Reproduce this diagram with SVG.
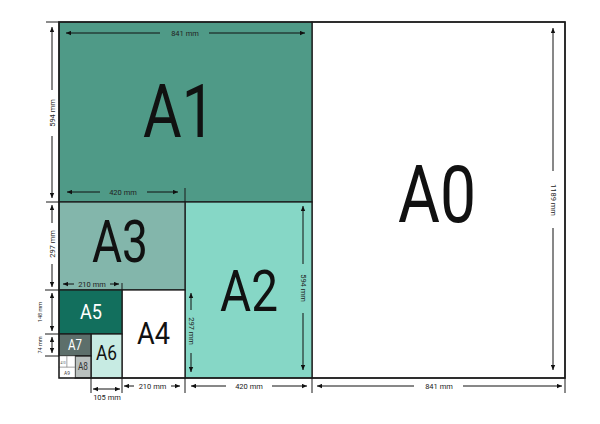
<svg xmlns="http://www.w3.org/2000/svg" width="600" height="424" viewBox="0 0 600 424">
<defs>
<marker id="ah" viewBox="0 0 6 6" refX="6" refY="3" markerWidth="5" markerHeight="5" orient="auto-start-reverse" markerUnits="userSpaceOnUse"><path d="M0,0.4 L6,3 L0,5.6z" fill="#111"/></marker>
<style>
.sheet{stroke:#1b1b1b;stroke-width:1.3}
.big{font-family:Roboto,"Liberation Sans",sans-serif;text-anchor:middle;fill:#111}
.dim{stroke:#111;stroke-width:1;fill:none;marker-end:url(#ah)}
.dim2{stroke:#111;stroke-width:1;fill:none;marker-end:url(#ah);marker-start:url(#ah)}
.ext{stroke:#1b1b1b;stroke-width:1}
.dt{font-family:Roboto,"Liberation Sans",sans-serif;font-size:7.5px;fill:#222;text-anchor:middle;dominant-baseline:central}
.ds{font-family:Roboto,"Liberation Sans",sans-serif;font-size:5.5px;fill:#222;text-anchor:middle;dominant-baseline:central}
</style>
</defs>
<rect width="600" height="424" fill="#fff"/>
<g id="A0"><rect class="sheet" x="312" y="22" width="253" height="356" fill="#fff"/><text class="big" x="437" y="222" font-size="79" textLength="78" lengthAdjust="spacingAndGlyphs">A0</text></g>
<g id="A1"><rect class="sheet" x="59" y="22" width="253" height="180" fill="#4f9a87"/><text class="big" x="179" y="137" font-size="74" textLength="72" lengthAdjust="spacingAndGlyphs">A1</text></g>
<g id="A2"><rect class="sheet" x="185" y="202" width="127" height="176" fill="#86d7c6"/><text class="big" x="249" y="311" font-size="58" textLength="58" lengthAdjust="spacingAndGlyphs">A2</text></g>
<g id="A3"><rect class="sheet" x="59" y="202" width="126" height="88" fill="#83b6ab"/><text class="big" x="120" y="262" font-size="59" textLength="56" lengthAdjust="spacingAndGlyphs">A3</text></g>
<g id="A4"><rect class="sheet" x="122" y="290" width="63" height="88" fill="#fff"/><text class="big" x="153.5" y="344" font-size="32" textLength="33" lengthAdjust="spacingAndGlyphs">A4</text></g>
<g id="A5"><rect class="sheet" x="59" y="290" width="63" height="44" fill="#126f5d"/><text class="big" x="91" y="319" font-size="20" textLength="22" lengthAdjust="spacingAndGlyphs" fill="#fff" style="fill:#fff">A5</text></g>
<g id="A6"><rect class="sheet" x="91" y="334" width="31" height="44" fill="#c7ebe3"/><text class="big" x="106.5" y="360" font-size="20" textLength="21" lengthAdjust="spacingAndGlyphs">A6</text></g>
<g id="A7"><rect class="sheet" x="59" y="334" width="32" height="22" fill="#5d6f6b"/><text class="big" x="75" y="350" font-size="14" textLength="14" lengthAdjust="spacingAndGlyphs" style="fill:#fff">A7</text></g>
<g id="A8"><rect class="sheet" x="75" y="356" width="16" height="22" fill="#b9c0be"/><text class="big" x="83" y="370" font-size="11" textLength="10" lengthAdjust="spacingAndGlyphs" style="fill:#333">A8</text></g>
<g id="A9"><rect x="59" y="367" width="16" height="11" fill="#fff" stroke="#777" stroke-width="0.5"/><text class="big" x="67" y="374.8" font-size="5.5" textLength="6" lengthAdjust="spacingAndGlyphs" style="fill:#444">A9</text></g>
<g id="A10"><rect x="59" y="356" width="8" height="11" fill="#fff" stroke="#777" stroke-width="0.5"/><rect x="67" y="356" width="8" height="11" fill="#fff" stroke="#777" stroke-width="0.5"/><text class="big" x="63" y="363.5" font-size="3.5" textLength="5" lengthAdjust="spacingAndGlyphs" style="fill:#444">A10</text></g>
<rect x="59" y="22" width="506" height="356" fill="none" stroke="#1b1b1b" stroke-width="1.5"/>
<g id="connectors">
<g id="ext">
<line class="ext" x1="46" y1="22" x2="59" y2="22"/>
<line class="ext" x1="46" y1="202" x2="59" y2="202"/>
<line class="ext" x1="45" y1="290" x2="59" y2="290"/>
<line class="ext" x1="45" y1="334" x2="59" y2="334"/>
<line class="ext" x1="45" y1="356" x2="59" y2="356"/>
<line class="ext" x1="185" y1="188" x2="185" y2="202"/>
<line class="ext" x1="122" y1="283" x2="122" y2="290"/>
<line class="ext" x1="91" y1="378" x2="91" y2="393"/>
<line class="ext" x1="122" y1="378" x2="122" y2="393"/>
<line class="ext" x1="185" y1="378" x2="185" y2="393"/>
<line class="ext" x1="312" y1="378" x2="312" y2="393"/>
<line class="ext" x1="565" y1="378" x2="565" y2="393"/>
</g>
<line class="dim" x1="160" y1="33" x2="66" y2="33"/><line class="dim" x1="209" y1="33" x2="305" y2="33"/>
<text class="dt" x="185" y="33">841 mm</text>
<line class="dim" x1="52" y1="90" x2="52" y2="27"/><line class="dim" x1="52" y1="136" x2="52" y2="198"/>
<text class="dt" transform="translate(52 113) rotate(-90)">594 mm</text>
<line class="dim" x1="52" y1="223" x2="52" y2="205"/><line class="dim" x1="52" y1="264" x2="52" y2="287"/>
<text class="dt" transform="translate(52 244) rotate(-90)">297 mm</text>
<line class="dim2" x1="52" y1="293" x2="52" y2="331"/>
<text class="ds" transform="translate(40 312) rotate(-90)">148 mm</text>
<line class="dim2" x1="52" y1="337" x2="52" y2="353"/>
<text class="ds" transform="translate(40 345) rotate(-90)">74 mm</text>
<line class="dim" x1="100" y1="192" x2="67" y2="192"/><line class="dim" x1="147" y1="192" x2="178" y2="192"/>
<text class="dt" x="123" y="192">420 mm</text>
<line class="dim" x1="74" y1="284" x2="63" y2="284"/><line class="dim" x1="110" y1="284" x2="119" y2="284"/>
<text class="dt" x="92" y="284">210 mm</text>
<line class="dim" x1="134" y1="386" x2="124" y2="386"/><line class="dim" x1="171" y1="386" x2="180" y2="386"/>
<text class="dt" x="152.5" y="386">210 mm</text>
<line class="dim2" x1="93" y1="389" x2="120" y2="389"/>
<text class="dt" x="107" y="397.5">105 mm</text>
<line class="dim" x1="226" y1="386" x2="191" y2="386"/><line class="dim" x1="272" y1="386" x2="307" y2="386"/>
<text class="dt" x="249" y="386">420 mm</text>
<line class="dim" x1="414" y1="386" x2="317" y2="386"/><line class="dim" x1="463" y1="386" x2="562" y2="386"/>
<text class="dt" x="439" y="386">841 mm</text>
<line class="dim" x1="191" y1="310" x2="191" y2="293"/><line class="dim" x1="191" y1="353" x2="191" y2="372"/>
<text class="dt" transform="translate(191 331) rotate(90)">297 mm</text>
<line class="dim" x1="303" y1="264" x2="303" y2="206"/><line class="dim" x1="303" y1="313" x2="303" y2="370"/>
<text class="dt" transform="translate(303 288) rotate(90)">594 mm</text>
<line class="dim" x1="553" y1="171" x2="553" y2="28"/><line class="dim" x1="553" y1="228" x2="553" y2="370"/>
<text class="dt" transform="translate(553 200) rotate(90)">1189 mm</text>
</g>
</svg>
